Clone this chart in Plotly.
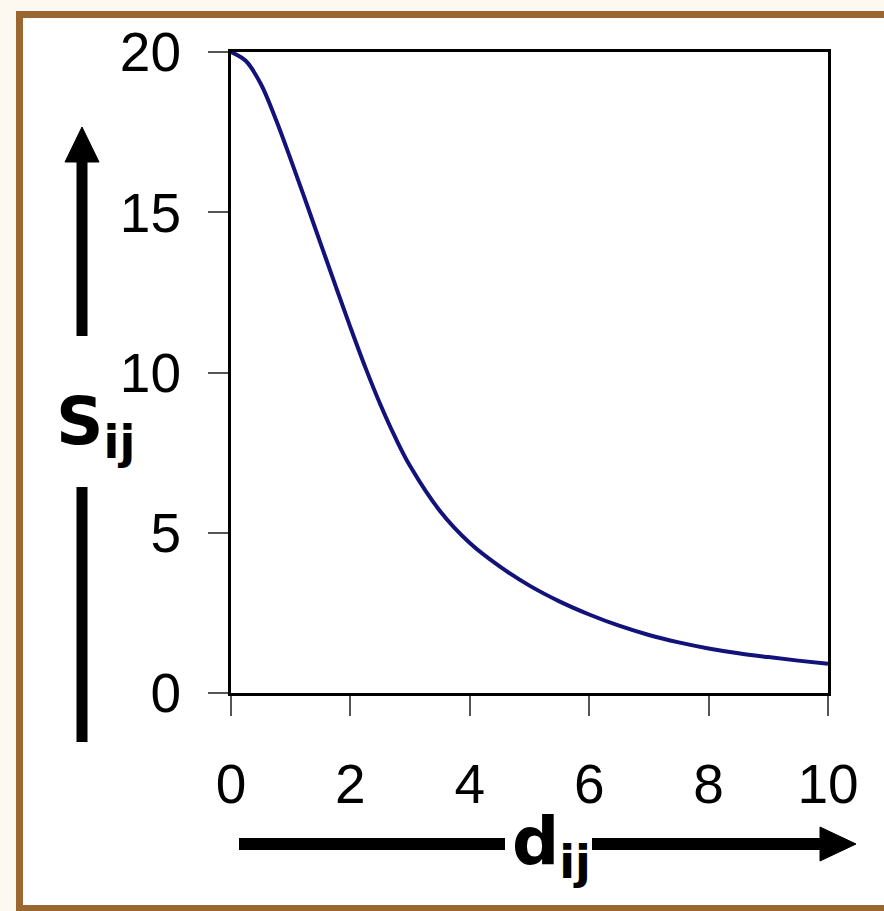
import plotly.graph_objects as go

# Similarity S_ij as a function of distance d_ij
d_values = [0, 0.25, 0.5, 0.75, 1.0, 1.25, 1.5, 1.75, 2.0, 2.25, 2.5, 2.75, 3.0,
            3.5, 4.0, 4.5, 5.0, 5.5, 6.0, 6.5, 7.0, 7.5, 8.0, 8.5, 9.0, 9.5, 10.0]
s_values = [20.0, 19.72, 19.0, 17.9, 16.65, 15.35, 14.03, 12.71, 11.41, 10.16, 9.01, 7.98, 7.08,
            5.68, 4.68, 3.95, 3.35, 2.86, 2.45, 2.1, 1.81, 1.58, 1.39, 1.24, 1.12, 1.01, 0.91]
x_ticks = [0, 2, 4, 6, 8, 10]
y_ticks = [0, 5, 10, 15, 20]

W, H = 884, 911
L, R, T, B = 231, 828, 52, 693  # plot area in pixels


def px(x):
    return (x - L) / (R - L)


def py(y):
    return (B - y) / (B - T)


fig = go.Figure()
fig.add_trace(go.Scatter(
    x=d_values, y=s_values, mode="lines",
    line=dict(color="#12127a", width=4, shape="spline", smoothing=1.0),
    hoverinfo="skip", showlegend=False,
))

axis_common = dict(
    showgrid=False, zeroline=False,
    showline=True, linewidth=3, linecolor="black", mirror=True,
    ticks="outside", ticklen=20, tickwidth=2, tickcolor="#555555",
    tickfont=dict(family="Liberation Sans, Arial, sans-serif", size=55, color="black"),
)
fig.update_xaxes(range=[0, 10], tickvals=x_ticks, ticklabelstandoff=21, **axis_common)
fig.update_yaxes(range=[0, 20], tickvals=y_ticks, ticklabelstandoff=16, **axis_common)

shapes = []
# brown outer frame
shapes.append(dict(type="rect", xref="paper", yref="paper",
                   x0=px(19.5), x1=px(905), y0=py(14.5), y1=py(908.5),
                   line=dict(color="#9a6731", width=7), fillcolor="white", layer="below"))


def shaft(x0, y0, x1, y1, w):
    shapes.append(dict(type="line", xref="paper", yref="paper",
                       x0=px(x0), y0=py(y0), x1=px(x1), y1=py(y1),
                       line=dict(color="black", width=w)))


def head(points):
    path = "M " + " L ".join(f"{px(x)},{py(y)}" for x, y in points) + " Z"
    shapes.append(dict(type="path", xref="paper", yref="paper", path=path,
                       fillcolor="black", line=dict(color="black", width=1)))


# vertical arrow beside the y axis
shaft(82, 158, 82, 336, 11)
shaft(82, 487, 82, 742, 11)
head([(82, 127), (65, 162), (99, 162)])

# horizontal arrow under the x axis
shaft(239, 844, 505, 844, 12)
shaft(592, 844, 822, 844, 12)
head([(856, 844), (820, 827), (820, 861)])

fig.update_layout(shapes=shapes)

label_font = dict(family="DejaVu Sans, sans-serif", size=66, color="black")
fig.add_annotation(xref="paper", yref="paper", x=px(54), y=py(426),
                   xanchor="left", yanchor="middle", showarrow=False,
                   text="<b>S<sub>ij</sub></b>", font=label_font)
fig.add_annotation(xref="paper", yref="paper", x=px(510), y=py(846),
                   xanchor="left", yanchor="middle", showarrow=False,
                   text="<b>d<sub>ij</sub></b>", font=label_font)

fig.update_layout(
    width=W, height=H,
    margin=dict(l=L, r=W - R, t=T, b=H - B, pad=0),
    paper_bgcolor="#fdf9f1", plot_bgcolor="white",
)

fig.write_html("out.html")
